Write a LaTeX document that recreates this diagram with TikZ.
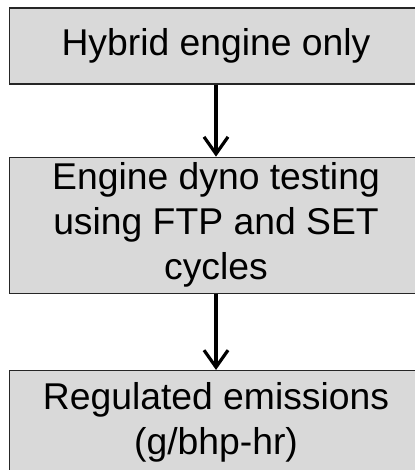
\documentclass[tikz,border=0pt]{standalone}
\usepackage{fontspec}
\setmainfont{Liberation Sans}
\usepackage{tikz}
\usetikzlibrary{positioning, arrows.meta}
\definecolor{boxgray}{HTML}{D9D9D9}
\tikzstyle{Flow} = [
    line width = 3.2pt,
    -{Straight Barb[length=17pt, width=24pt]}
]

\begin{document}
\begin{tikzpicture}[
box/.style={
    rectangle,
    draw = black!85,
    line width = 1.3pt,
    fill = boxgray,
    minimum width = 413pt,
    align = center,
    font = \fontsize{37.3}{45}\selectfont
    }
]
\useasboundingbox (0,0) rectangle (414pt,-470pt);

\node [box, minimum height = 76pt] (1) at (216pt,-46pt) {Hybrid engine only};
\node [box, minimum height = 136pt, below = 72pt of 1] (2) {Engine dyno testing\\using FTP and SET\\cycles};
\node [box, minimum height = 103pt, below = 76pt of 2] (3) {Regulated emissions\\(g/bhp-hr)};

\draw[Flow] (1.south) -- (2.north);
\draw[Flow] (2.south) -- (3.north);

\end{tikzpicture}
\end{document}
